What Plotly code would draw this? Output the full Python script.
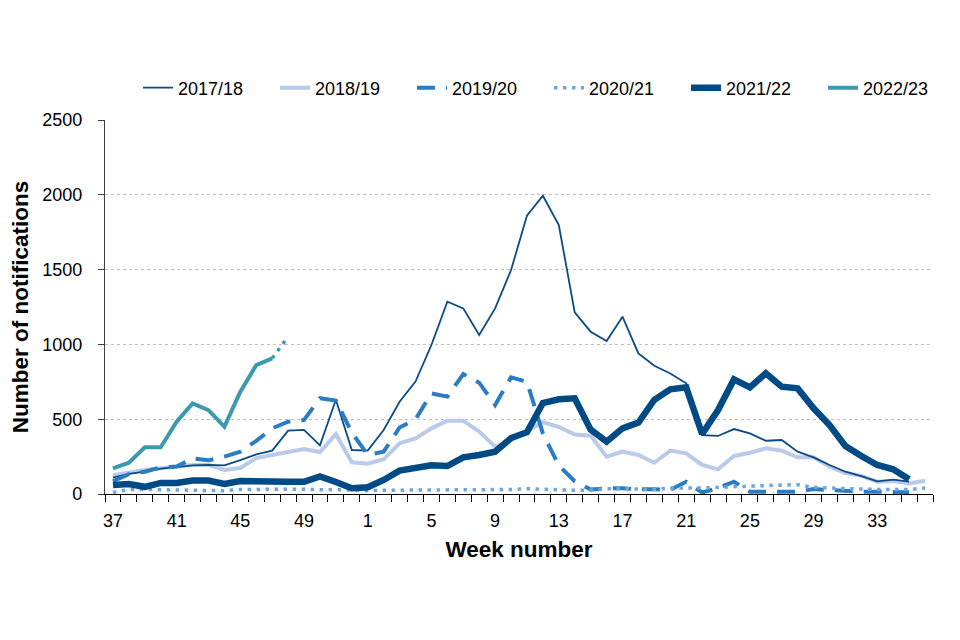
import plotly.graph_objects as go

weeks = [str(w) for w in list(range(37, 53)) + list(range(1, 37))]
tick_labels = ["37", "41", "45", "49", "1", "5", "9", "13", "17", "21", "25", "29", "33"]

s2017 = [110, 135, 150, 170, 180, 192, 195, 192, 227, 265, 290, 423, 428, 325, 630, 294,
         290, 428, 617, 751, 996, 1285, 1241, 1063, 1241, 1497, 1860, 1994, 1798, 1214,
         1085, 1023, 1185, 940, 857, 806, 740, 394, 388, 434, 405, 356, 361, 283, 245,
         194, 149, 120, 85, 96, 82, None]
s2018 = [125, 143, 160, 172, 180, 194, 195, 160, 174, 240, 261, 283, 301, 281, 400, 212,
         203, 232, 339, 372, 439, 490, 490, 417, 316, 360, 420, 480, 448, 398, 390, 249,
         283, 261, 209, 290, 272, 194, 165, 254, 276, 305, 290, 245, 245, 183, 140, 121,
         82, 86, 70, 89]
s2019 = [85, 133, 149, 178, 183, 238, 225, 250, 283, 355, 439, 483, 495, 640, 625, 410,
         262, 283, 445, 499, 673, 651, 802, 744, 595, 780, 750, 405, 190, 85, 30, 38, 38,
         31, 31, 28, 82, 10, 40, 82, 15, 15, 20, 15, 33, 27, 17, 15, 15, 12, 12, None]
s2020 = [10, 30, 30, 28, 28, 22, 20, 22, 30, 32, 30, 32, 32, 28, 30, 25, 22, 25, 25, 30,
         28, 25, 25, 25, 25, 30, 35, 30, 25, 25, 25, 35, 35, 30, 30, 40, 38, 40, 45, 50,
         55, 55, 60, 62, 45, 40, 35, 30, 30, 30, 30, 40]
s2021 = [60, 67, 48, 74, 74, 90, 90, 67, 87, 82, 87, 82, 82, 118, 80, 38, 45, 94, 156, 175,
         192, 187, 245, 261, 283, 374, 413, 608, 633, 640, 430, 350, 439, 477, 630, 700,
         713, 401, 561, 766, 713, 807, 717, 706, 573, 461, 321, 254, 194, 165, 98, None]
s2022 = [172, 209, 312, 312, 483, 606, 561, 450, 684, 862, 907]
s2022_provisional = [907, 1051]

c2017 = "#0b4c85"
c2018 = "#b9caea"
c2019 = "#2a7dc2"
c2020 = "#6fa6dc"
c2021 = "#004a85"
c2022 = "#3b9aae"

fig = go.Figure()
fig.add_trace(go.Scatter(x=weeks, y=s2018, name="2018/19", mode="lines", legendrank=2,
                         line=dict(color=c2018, width=4)))
fig.add_trace(go.Scatter(x=weeks, y=s2017, name="2017/18", mode="lines", legendrank=1,
                         line=dict(color=c2017, width=1.8)))
fig.add_trace(go.Scatter(x=weeks, y=s2019, name="2019/20", mode="lines", legendrank=3,
                         line=dict(color=c2019, width=4, dash="18px,11px")))
fig.add_trace(go.Scatter(x=weeks, y=s2020, name="2020/21", mode="lines", legendrank=4,
                         line=dict(color=c2020, width=3.5, dash="3.5px,5.5px")))
fig.add_trace(go.Scatter(x=weeks, y=s2021, name="2021/22", mode="lines", legendrank=5,
                         line=dict(color=c2021, width=6.5)))
fig.add_trace(go.Scatter(x=weeks[:len(s2022)], y=s2022, name="2022/23", mode="lines",
                         legendrank=6, line=dict(color=c2022, width=4)))
fig.add_trace(go.Scatter(x=weeks[len(s2022) - 1:len(s2022) + 1], y=s2022_provisional,
                         name="2022/23 provisional", mode="lines", showlegend=False,
                         line=dict(color=c2022, width=3.5, dash="3.5px,5.5px")))

tick_font = dict(family="Liberation Sans, Arial", size=18, color="#000000")
title_font = dict(family="Liberation Sans, Arial", size=22.5, color="#000000")

fig.update_layout(
    width=960, height=640,
    margin=dict(l=97, r=35, t=112, b=154, autoexpand=False),
    paper_bgcolor="white", plot_bgcolor="white",
    showlegend=True,
    legend=dict(orientation="h", xref="container", yref="container",
                x=130 / 960, xanchor="left", y=1 - 80 / 640, yanchor="middle",
                font=tick_font, entrywidth=92, traceorder="normal",
                bgcolor="rgba(0,0,0,0)"),
    xaxis=dict(
        type="category", categoryorder="array", categoryarray=weeks,
        range=[-0.5, len(weeks) - 0.5],
        tickmode="array", tickvals=weeks, tickangle=0,
        ticktext=[w if w in tick_labels else "" for w in weeks],
        tickson="boundaries", ticks="outside", ticklen=7, tickcolor="#000000",
        showline=True, linecolor="#000000", linewidth=1.2,
        showgrid=False, tickfont=tick_font, ticklabelstandoff=10,
        title=dict(text="<b>Week number</b>", font=title_font, standoff=11),
    ),
    yaxis=dict(
        range=[0, 2500], dtick=500, tick0=0,
        ticks="outside", ticklen=6, tickcolor="#404040",
        showline=True, linecolor="#404040", linewidth=1.2,
        showgrid=True, gridcolor="#c0c0c0", griddash="dot", gridwidth=1,
        zeroline=False, tickfont=tick_font, ticklabelstandoff=12,
        title=dict(text="<b>Number of notifications</b>", font=title_font, standoff=12),
    ),
)

fig.write_html("out.html")
